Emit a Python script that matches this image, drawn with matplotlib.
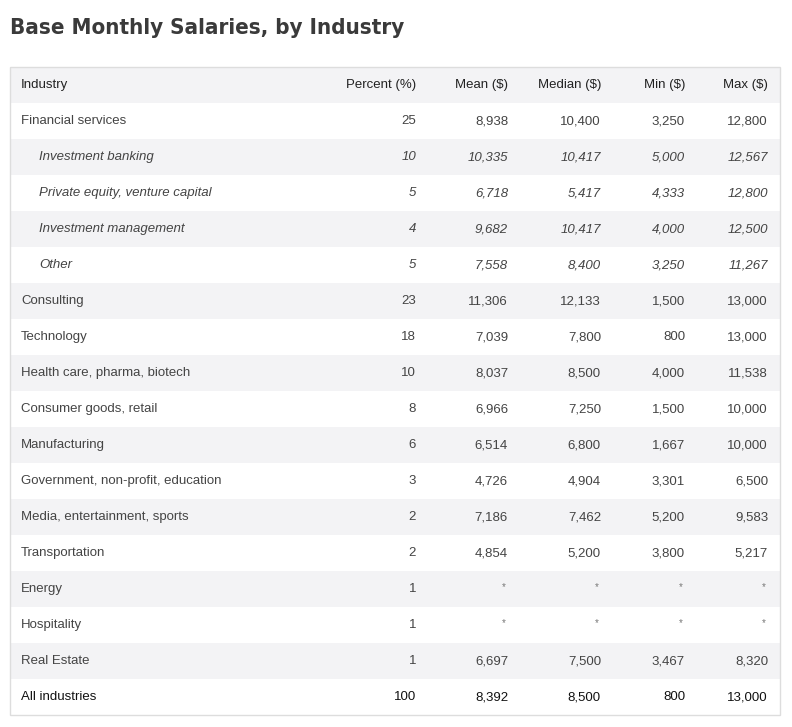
import matplotlib.pyplot as plt
from matplotlib.patches import Rectangle

title = 'Base Monthly Salaries, by Industry'
headers = ['Industry', 'Percent (%)', 'Mean ($)', 'Median ($)', 'Min ($)', 'Max ($)']
industries = ['Financial services', 'Investment banking', 'Private equity, venture capital',
              'Investment management', 'Other', 'Consulting', 'Technology',
              'Health care, pharma, biotech', 'Consumer goods, retail', 'Manufacturing',
              'Government, non-profit, education', 'Media, entertainment, sports',
              'Transportation', 'Energy', 'Hospitality', 'Real Estate', 'All industries']
subrow = [False, True, True, True, True] + [False] * 12
percent = ['25', '10', '5', '4', '5', '23', '18', '10', '8', '6', '3', '2', '2', '1', '1', '1', '100']
mean = ['8,938', '10,335', '6,718', '9,682', '7,558', '11,306', '7,039', '8,037', '6,966',
        '6,514', '4,726', '7,186', '4,854', '*', '*', '6,697', '8,392']
median = ['10,400', '10,417', '5,417', '10,417', '8,400', '12,133', '7,800', '8,500', '7,250',
          '6,800', '4,904', '7,462', '5,200', '*', '*', '7,500', '8,500']
mins = ['3,250', '5,000', '4,333', '4,000', '3,250', '1,500', '800', '4,000', '1,500',
        '1,667', '3,301', '5,200', '3,800', '*', '*', '3,467', '800']
maxs = ['12,800', '12,567', '12,800', '12,500', '11,267', '13,000', '13,000', '11,538', '10,000',
        '10,000', '6,500', '9,583', '5,217', '*', '*', '8,320', '13,000']

fig = plt.figure(figsize=(7.92, 7.27), dpi=100)
ax = fig.add_axes([0, 0, 1, 1])
ax.set_xlim(0, 792)
ax.set_ylim(727, 0)
ax.axis('off')

txt = '#444444'
body_font = ['Liberation Sans', 'DejaVu Sans']
ax.text(10, 28, title, fontsize=16, fontweight='bold', color='#3a3a3a', va='center',
        family=['DejaVu Sans'], fontstretch='condensed')

left, right, top, rowh = 10, 780, 67, 36
col_x = [416, 508, 601, 685, 768]
cols = [percent, mean, median, mins, maxs]

# header band
ax.add_patch(Rectangle((left, top), right - left, rowh, color='#f3f3f5', lw=0))
ax.text(21, top + rowh / 2, headers[0], fontsize=9.5, color='#222222', va='center', family=body_font)
for x, h in zip(col_x, headers[1:]):
    ax.text(x, top + rowh / 2, h, fontsize=9.5, color='#222222', va='center', ha='right', family=body_font)

for i, name in enumerate(industries):
    y0 = top + rowh * (i + 1)
    yc = y0 + rowh / 2
    if i % 2 == 1:
        ax.add_patch(Rectangle((left, y0), right - left, rowh, color='#f3f3f5', lw=0))
    style = 'italic' if subrow[i] else 'normal'
    x_name = 39 if subrow[i] else 21
    last = i == len(industries) - 1
    c = '#111111' if last else txt
    ax.text(x_name, yc, name, fontsize=9.5, color=c, va='center', style=style, family=body_font)
    for x, col in zip(col_x, cols):
        v = col[i]
        if v == '*':
            ax.text(x - 2, yc - 2, v, fontsize=7, color='#777777', va='center', ha='right', family=body_font)
        else:
            ax.text(x, yc, v, fontsize=9.5, color=c, va='center', ha='right', style=style, family=body_font)

bottom = top + rowh * (len(industries) + 1)
ax.add_patch(Rectangle((left, top), right - left, bottom - top, fill=False, ec='#dddddd', lw=1))

fig.savefig('out.png', dpi=100, facecolor='white')
